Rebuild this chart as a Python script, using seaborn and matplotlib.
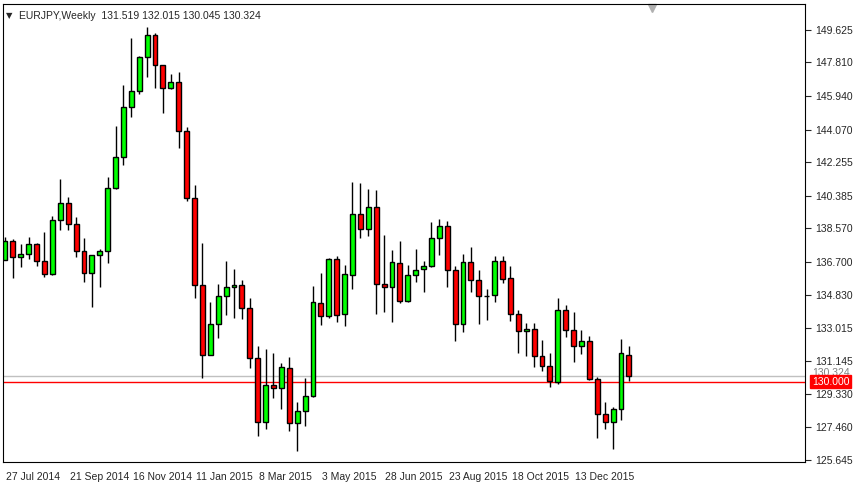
import numpy as np
import pandas as pd
import seaborn as sns
from matplotlib import pyplot as plt
from matplotlib.patches import Rectangle

sns.set_style("white")
plt.rcParams['font.family'] = ['Liberation Sans', 'DejaVu Sans']

# weekly EURJPY candles
opens = [136.80, 137.86, 136.95, 137.11, 137.67, 136.72, 136.00, 139.01, 139.98, 138.79,
         137.28, 136.05, 137.06, 137.28, 140.80, 142.52, 145.31, 146.20, 148.10, 149.35,
         147.65, 146.37, 146.71, 143.97, 140.24, 135.39, 131.48, 133.23, 134.79, 135.29,
         135.40, 134.10, 131.31, 127.74, 129.81, 129.64, 130.76, 127.69, 128.36, 129.19,
         134.38, 133.66, 136.84, 133.77, 135.94, 139.35, 138.51, 139.74, 135.44, 135.27,
         136.61, 134.49, 135.94, 136.28, 136.45, 138.01, 138.68, 136.22, 133.21, 136.67,
         135.66, 134.81, 134.87, 136.72, 135.78, 133.77, 132.82, 132.93, 131.43, 130.87,
         129.98, 133.99, 132.87, 131.98, 132.26, 130.14, 128.19, 127.74, 128.47, 131.519]
highs = [138.06, 137.95, 137.67, 138.06, 137.76, 138.38, 139.25, 141.30, 140.31, 139.20,
         138.02, 137.06, 137.43, 141.45, 144.27, 146.56, 149.16, 148.17, 149.81, 149.48,
         147.65, 147.17, 147.30, 144.23, 140.98, 137.73, 134.48, 135.46, 136.74, 136.30,
         135.68, 134.68, 131.98, 131.83, 131.61, 131.07, 131.37, 128.86, 130.20, 135.35,
         136.05, 136.93, 137.00, 136.50, 141.15, 141.09, 140.76, 140.70, 138.19, 137.36,
         137.86, 136.52, 137.41, 136.74, 138.92, 139.08, 138.97, 136.45, 137.13, 137.52,
         136.22, 135.16, 137.02, 137.02, 136.46, 133.99, 133.27, 133.27, 132.32, 131.59,
         134.66, 134.27, 133.88, 132.87, 132.54, 130.25, 128.86, 128.62, 132.37, 132.015]
lows = [136.80, 135.78, 136.43, 136.85, 136.48, 135.87, 135.94, 138.47, 138.47, 136.95,
        135.59, 134.20, 135.27, 136.65, 140.76, 142.11, 144.79, 146.05, 147.02, 146.41,
        144.98, 146.32, 143.06, 140.11, 134.70, 130.24, 131.48, 132.47, 133.75, 133.58,
        133.53, 130.79, 127.00, 127.39, 129.12, 128.47, 127.26, 126.17, 127.54, 129.14,
        133.19, 133.58, 133.34, 133.14, 135.20, 138.04, 138.15, 133.80, 133.91, 133.36,
        134.38, 134.44, 135.59, 135.03, 136.39, 137.07, 135.31, 132.30, 132.80, 135.03,
        133.25, 133.47, 134.47, 135.50, 133.41, 131.63, 131.46, 130.81, 130.63, 129.73,
        129.86, 132.52, 131.13, 131.57, 130.09, 126.89, 127.37, 126.27, 127.89, 130.045]
closes = [137.86, 136.95, 137.11, 137.67, 136.72, 136.00, 139.01, 139.98, 138.79, 137.28,
          136.05, 137.06, 137.28, 140.80, 142.52, 145.31, 146.20, 148.10, 149.35, 147.65,
          146.37, 146.71, 143.97, 140.24, 135.39, 131.48, 133.23, 134.79, 135.29, 135.40,
          134.10, 131.31, 127.74, 129.81, 129.64, 130.81, 127.69, 128.36, 129.19, 134.44,
          133.66, 136.84, 133.71, 136.00, 139.35, 138.51, 139.74, 135.44, 135.27, 136.67,
          134.49, 135.94, 136.22, 136.45, 138.01, 138.68, 136.22, 133.21, 136.67, 135.66,
          134.77, 134.77, 136.72, 135.72, 133.77, 132.82, 132.93, 131.43, 130.87, 130.03,
          133.99, 132.87, 131.98, 132.26, 130.14, 128.19, 127.74, 128.47, 131.59, 130.324]

price_ticks = [149.625, 147.810, 145.940, 144.070, 142.255, 140.385, 138.570,
               136.700, 134.830, 133.015, 131.145, 129.330, 127.460, 125.645]
date_labels = ["27 Jul 2014", "21 Sep 2014", "16 Nov 2014", "11 Jan 2015", "8 Mar 2015",
               "3 May 2015", "28 Jun 2015", "23 Aug 2015", "18 Oct 2015", "13 Dec 2015"]
date_idx = [0, 8, 16, 24, 32, 40, 48, 56, 64, 72]
line_price = 130.000
bid_price = 130.324

df = pd.DataFrame({"open": opens, "high": highs, "low": lows, "close": closes})
df["x"] = np.arange(len(df))

fig = plt.figure(figsize=(8.65, 4.84), dpi=100)
ax = fig.add_axes([3 / 865, 1 - 462 / 484, 802 / 865, 458 / 484])
ax.set_xlim(-0.25, 101.3)
ax.set_ylim(125.53, 151.07)

# gray bid line and red level line
ax.axhline(bid_price, color="#c0c0c0", lw=1, zorder=1)
ax.axhline(line_price, color="red", lw=1, zorder=1)

w = 0.62
for _, r in df.iterrows():
    up = r["close"] >= r["open"]
    ax.vlines(r["x"], r["low"], r["high"], color="black", lw=1, zorder=2)
    bottom = min(r["open"], r["close"])
    height = max(abs(r["close"] - r["open"]), 0.02)
    ax.add_patch(Rectangle((r["x"] - w / 2, bottom), w, height,
                           facecolor="#00ff00" if up else "#ff0000",
                           edgecolor="black", lw=1, zorder=3))

ax.yaxis.tick_right()
ax.set_yticks(price_ticks)
ax.set_yticklabels([f"{p:.3f}" for p in price_ticks], fontsize=7.5)
ax.tick_params(axis="y", length=4, width=0.8, pad=3, direction="out")
ax.set_xticks(date_idx)
ax.set_xticklabels([])
ax.tick_params(axis="x", length=4, width=0.8, direction="out")
for i, lab in zip(date_idx, date_labels):
    ax.annotate(lab, (i, 0), xycoords=("data", "axes fraction"), xytext=(1, -11),
                textcoords="offset points", fontsize=7.5, ha="left", va="center")
for s in ax.spines.values():
    s.set_color("black")
    s.set_linewidth(0.8)

ax.annotate("130.324", (1, bid_price), xycoords=("axes fraction", "data"), xytext=(5, 2),
            textcoords="offset points", fontsize=7.5, va="center", color="#808080")
ax.annotate("130.000", (1, line_price), xycoords=("axes fraction", "data"), xytext=(5, 0),
            textcoords="offset points", fontsize=7.5, va="center", color="white",
            bbox=dict(boxstyle="square,pad=0.15", fc="red", ec="red"))

ax.text(0.004, 0.985, "▼", transform=ax.transAxes, fontsize=6, va="top",
        family=["DejaVu Sans"])
ax.text(0.02, 0.985, "EURJPY,Weekly  131.519 132.015 130.045 130.324",
        transform=ax.transAxes, fontsize=7.5, va="top")
ax.plot([81.9], [151.07 - 0.25], marker="v", color="#b0b0b0", ms=6, clip_on=False)

fig.savefig("out.png", dpi=100)
